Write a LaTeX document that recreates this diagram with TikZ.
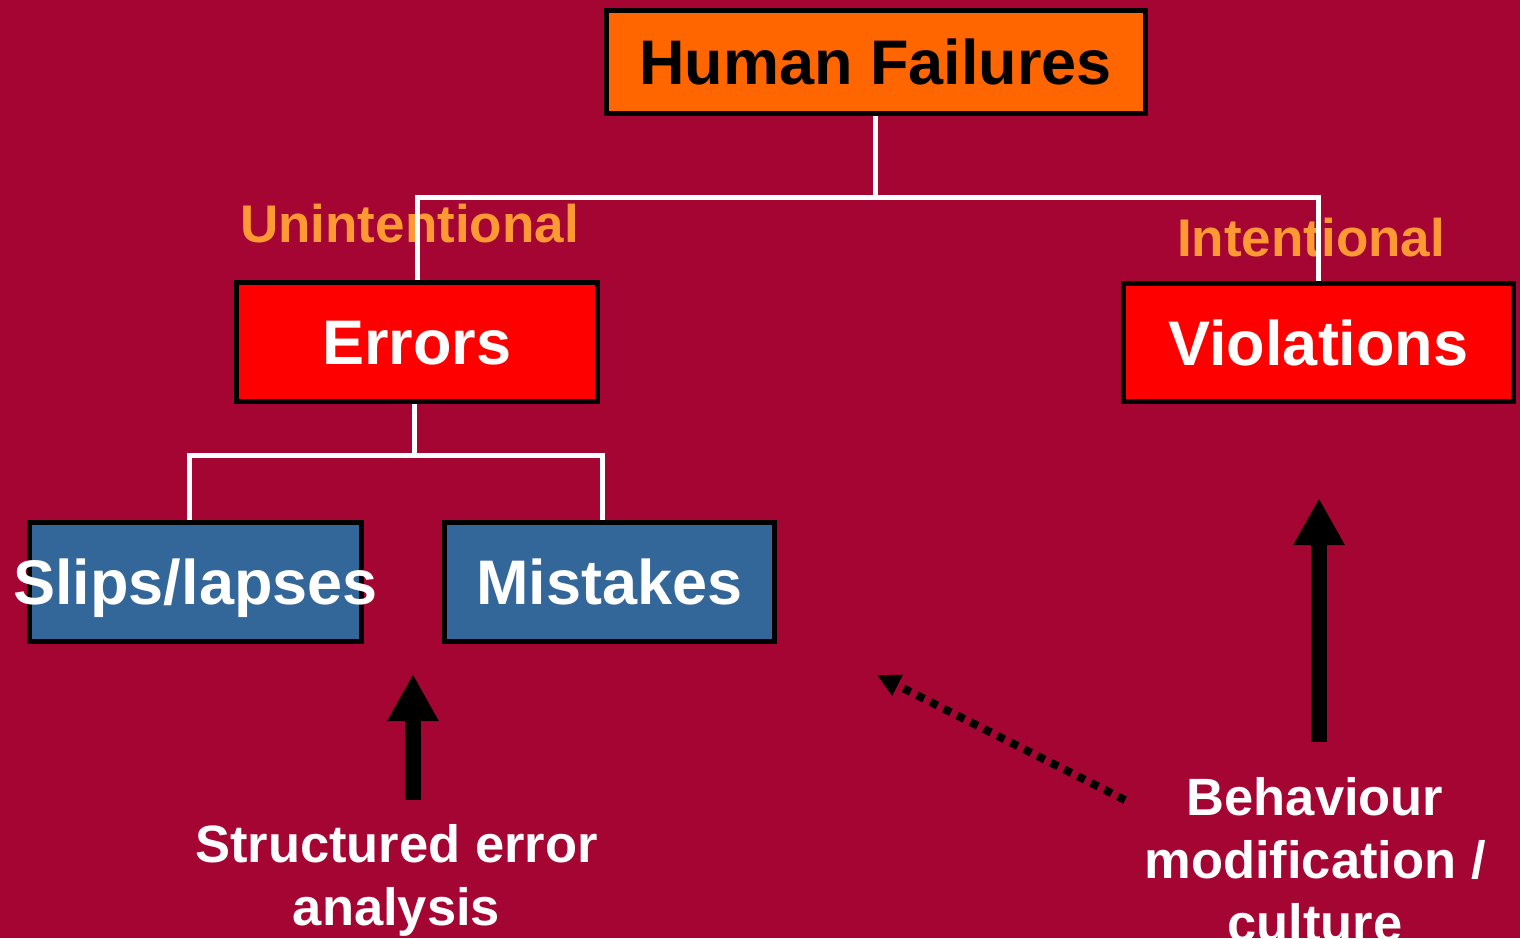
\documentclass[tikz,border=0pt]{standalone}
\usepackage{fontspec}
\setmainfont{Liberation Sans}
\usetikzlibrary{arrows.meta}

\definecolor{slidebg}{HTML}{A50533}
\definecolor{hforange}{HTML}{FF6600}
\definecolor{errred}{HTML}{FF0000}
\definecolor{slipblue}{HTML}{336699}
\definecolor{labelorange}{HTML}{FF9933}

\begin{document}
\begin{tikzpicture}[x=1pt, y=-1pt,
  box/.style={draw=black, line width=5pt, inner sep=0pt,
    font=\fontsize{63pt}{63pt}\selectfont\bfseries,
    text height=45pt, text depth=0pt},
  boxtext/.style={inner sep=0pt, text=white,
    font=\fontsize{63pt}{63pt}\selectfont\bfseries,
    text height=45pt, text depth=0pt},
  sidelabel/.style={anchor=base west, inner sep=0pt, text=labelorange,
    font=\fontsize{53pt}{63pt}\selectfont\bfseries},
  note/.style={anchor=north, inner sep=0pt, text=white, align=center,
    font=\fontsize{52.5pt}{63pt}\selectfont\bfseries},
  conn/.style={draw=white, line width=5pt},
  bigarrow/.style={draw=black, line width=16pt,
    -{Triangle[length=47pt,width=48pt]}},
  dotarrow/.style={draw=black, line width=8pt, dash pattern=on 8pt off 7pt,
    -{Triangle[length=23pt,width=22pt]}}
]
% page
\fill[slidebg] (0,0) rectangle (1520,938);
\useasboundingbox (0,0) rectangle (1520,938);

% category labels (drawn beneath the connectors)
\node[sidelabel] (unint) at (240,242) {Unintentional};
\node[sidelabel] (intent) at (1177,256) {Intentional};

% hierarchy boxes
\node[box, fill=hforange, text=black, minimum width=539pt, minimum height=103pt]
  (hf) at (875.5,62) {Human Failures};
\node[box, fill=errred, text=white, minimum width=361pt, minimum height=119pt]
  (err) at (417,342) {Errors};
\node[box, fill=errred, text=white, minimum width=390pt, minimum height=118pt]
  (vio) at (1318.5,342.5) {Violations};
\node[box, fill=slipblue, minimum width=332pt, minimum height=119pt]
  (slips) at (195.5,582) {};
\node[boxtext] (slipstxt) at (slips.center) {Slips/lapses};
\node[box, fill=slipblue, text=white, minimum width=330pt, minimum height=119pt]
  (mist) at (609.5,582) {Mistakes};

% tree connectors
\coordinate (bus1) at ([yshift=-81pt]hf.south);
\coordinate (bus2) at ([xshift=-3pt,yshift=-51pt]err.south);
\draw[conn] (hf.south) -- (bus1) -| (err.north);
\draw[conn] (bus1) -| (vio.north);
\draw[conn] ([xshift=-3pt]err.south) -- (bus2) -| ([xshift=-6.5pt]slips.north);
\draw[conn] (bus2) -| ([xshift=-7.5pt]mist.north);

% remedies
\node[note] (sea) at (396.5,824) {Structured error\\analysis};
\node[note] (beh) at (1315,777) {Behaviour\\modification /\\culture};

\coordinate (a1s) at (413,800);
\coordinate (a1t) at (413,674);
\coordinate (a2s) at (1319,742);
\coordinate (a2t) at (1319,498);
\coordinate (a3s) at (1125,800);
\coordinate (a3t) at (877,675);
\draw[bigarrow] (a1s) -- (a1t);
\draw[bigarrow] (a2s) -- (a2t);
\draw[dotarrow] (a3s) -- (a3t);
\end{tikzpicture}
\end{document}
